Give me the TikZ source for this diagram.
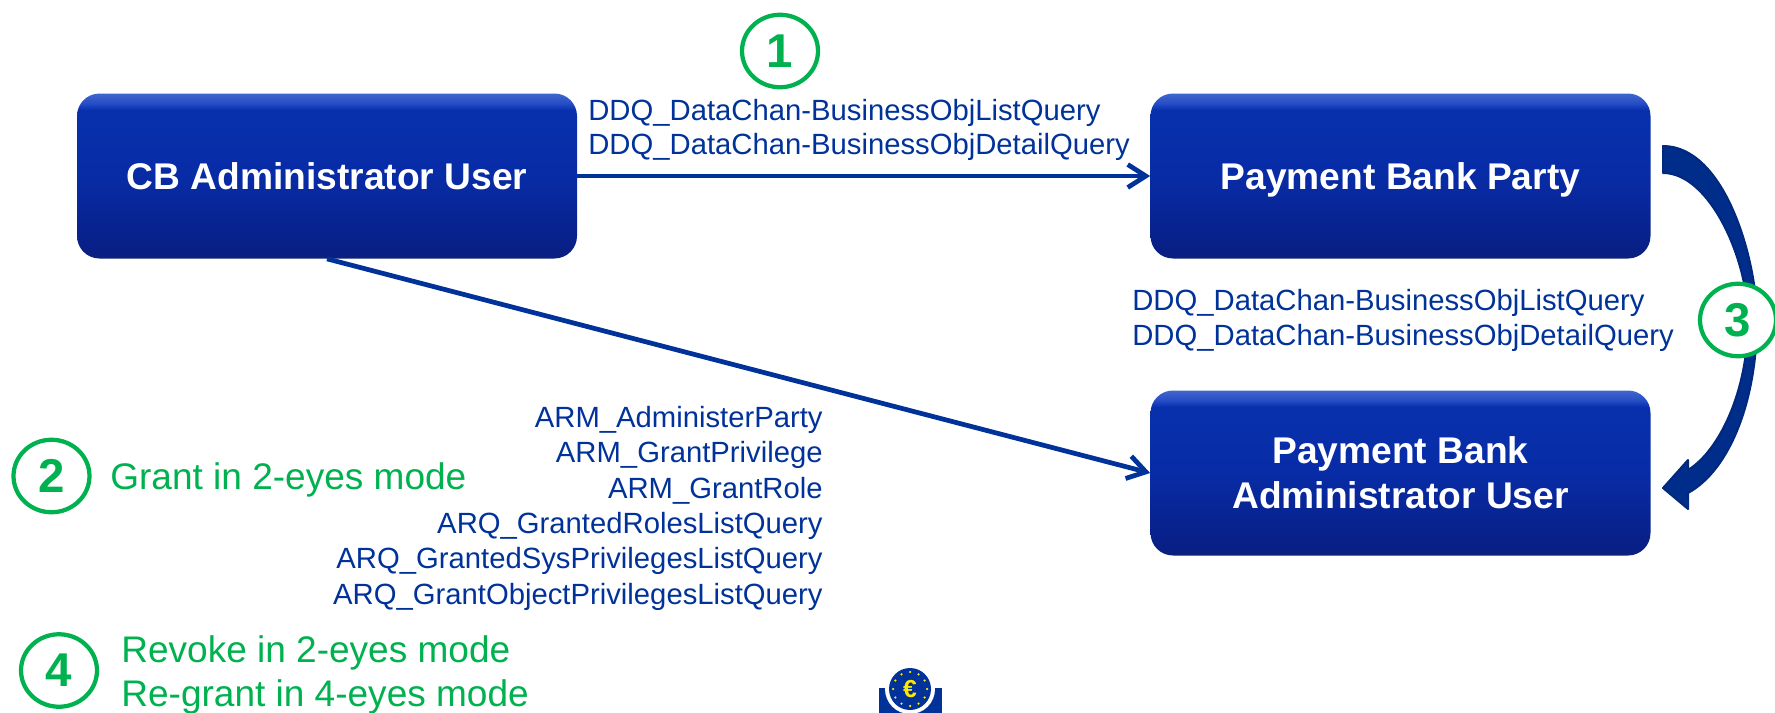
\documentclass[tikz,border=0pt]{standalone}
\usepackage{fontspec}
\setmainfont{Liberation Sans}
\usetikzlibrary{shapes.geometric, arrows.meta}
\definecolor{ecbblue}{RGB}{0,50,153}
\definecolor{ecbgreen}{RGB}{0,177,79}
\definecolor{ecbdark}{RGB}{0,40,125}
\pgfdeclareverticalshading{boxshade}{100bp}{
    rgb(0bp)=(0.05,0.13,0.48);
    rgb(25bp)=(0.05,0.13,0.48);
    rgb(27bp)=(0.03,0.12,0.52);
    rgb(50bp)=(0.03,0.17,0.65);
    rgb(70bp)=(0.03,0.19,0.68);
    rgb(72bp)=(0.15,0.30,0.78);
    rgb(75bp)=(0.25,0.40,0.80);
    rgb(100bp)=(0.25,0.40,0.80)
}
\tikzset{
    bankbox/.style={
        rounded corners=0.45cm,
        shading=boxshade,
        minimum width=10cm,
        minimum height=3.3cm,
        align=center,
        text=white,
        font=\fontsize{21.15}{25.7}\selectfont\bfseries
    },
    oneline/.style={text height=0.53cm, text depth=0cm},
    flow/.style={draw=ecbblue, line width=0.095cm, -{Straight Barb[length=0.36cm, width=0.46cm]}},
    querytext/.style={text=ecbblue, font=\fontsize{16.65}{20}\selectfont, inner sep=0},
    stepmark/.style={
        ellipse,
        draw=ecbgreen,
        line width=0.085cm,
        fill=white,
        minimum width=1.52cm,
        minimum height=1.45cm,
        inner sep=0,
        text=ecbgreen,
        font=\fontsize{27}{27}\selectfont\bfseries
    },
    steptext/.style={text=ecbgreen, font=\fontsize{21.07}{25}\selectfont, inner sep=0, align=left}
}
\begin{document}
\begin{tikzpicture}
    \useasboundingbox (0,0) rectangle (35.5,-14.26);

    \node[bankbox, oneline] (cb) at (6.54,-3.52) {CB Administrator User};
    \node[bankbox, oneline] (party) at (28.01,-3.52) {Payment Bank Party};
    \node[bankbox] (admin) at (28.01,-9.46) {Payment Bank\\Administrator User};

    \draw[flow] (cb.east) -- (party.west);
    \draw[flow] (cb.south) -- (admin.west);

    % curved arrow
    \draw[draw=ecbdark, fill=ecbblue!90!black, line width=0.04cm, line join=round]
        (33.26,-2.92) .. controls (34.5,-2.92) and (35.14,-5.2) .. (35.14,-6.4)
        .. controls (35.14,-8.0) and (34.6,-9.4) .. (33.76,-9.86)
        -- (33.76,-10.18) -- (33.26,-9.76) -- (33.76,-9.2) -- (33.76,-9.4)
        .. controls (34.4,-9.0) and (34.96,-7.8) .. (34.96,-6.4)
        .. controls (34.96,-5.2) and (34.2,-3.46) .. (33.26,-3.46) -- cycle;

    \node[querytext, anchor=west] (partylist) at (11.76,-2.26) {DDQ\_DataChan-BusinessObjListQuery};
    \node[querytext, anchor=west] (partydetail) at (11.76,-2.94) {DDQ\_DataChan-BusinessObjDetailQuery};
    \node[querytext, anchor=west] (adminlist) at (22.64,-6.06) {DDQ\_DataChan-BusinessObjListQuery};
    \node[querytext, anchor=west] (admindetail) at (22.64,-6.76) {DDQ\_DataChan-BusinessObjDetailQuery};

    \foreach[count=~] \l in {ARM\_AdministerParty, ARM\_GrantPrivilege, ARM\_GrantRole, ARQ\_GrantedRolesListQuery, ARQ\_GrantedSysPrivilegesListQuery, ARQ\_GrantObjectPrivilegesListQuery} {
        \node[querytext, anchor=east] (right~) at (16.46,{-8.4-0.707*(~-1)}) {\l};
    }

    \node[stepmark] (one) at (15.6,-1.02) {1};
    \node[stepmark] (two) at (1.03,-9.52) {2};
    \node[stepmark] (three) at (34.76,-6.4) {3};
    \node[stepmark] (four) at (1.18,-13.41) {4};

    \node[steptext, anchor=west] (twotext) at (2.2,-9.59) {Grant in 2-eyes mode};
    \node[steptext, anchor=west] (fourtext) at (2.42,-13.5) {Revoke in 2-eyes mode\\Re-grant in 4-eyes mode};

    % logo
    \begin{scope}
        \clip (0,0) rectangle (35.5,-14.26);
        \fill[ecbblue] (17.58,-13.76) rectangle (18.84,-14.4);
        \fill[white] (18.2,-13.78) circle (0.5);
        \fill[ecbblue] (18.2,-13.78) circle (0.42);
        \foreach \a in {0,30,...,330} {
            \fill[yellow!90!orange] (18.2,-13.78) ++(\a:0.34) circle (0.025);
        }
        \node[text=yellow!90!orange, font=\fontsize{14}{14}\selectfont\bfseries] (euro) at (18.2,-13.78) {€};
    \end{scope}
\end{tikzpicture}
\end{document}
